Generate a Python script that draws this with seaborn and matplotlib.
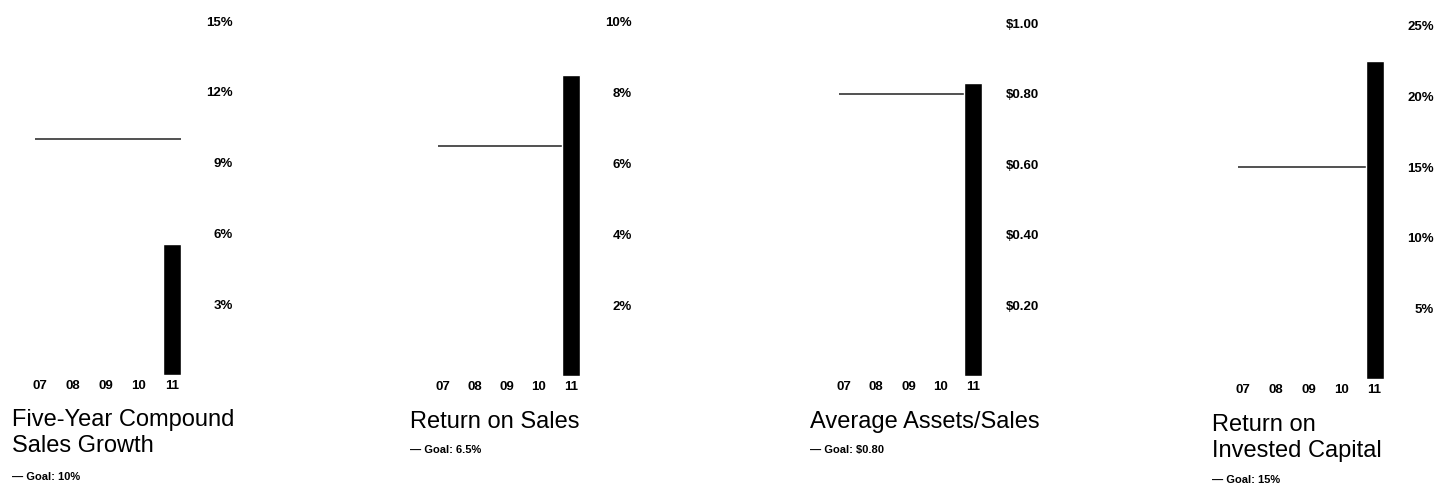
import numpy as np
import pandas as pd
import matplotlib
matplotlib.use("Agg")
import matplotlib.pyplot as plt
import seaborn as sns

sns.set_style("white")
plt.rcParams["font.family"] = ["Liberation Sans", "DejaVu Sans"]
plt.rcParams["text.color"] = "black"
plt.rcParams["xtick.color"] = "black"
plt.rcParams["ytick.color"] = "black"

years = ["07", "08", "09", "10", "11"]

# only 2011 has a bar in the chart
sales_growth = [None, None, None, None, 5.55]
return_on_sales = [None, None, None, None, 8.5]
assets_sales = [None, None, None, None, 0.83]
roic = [None, None, None, None, 22.5]

goals = [10, 6.5, 0.80, 15]
goal_labels = ["— Goal: 10%", "— Goal: 6.5%", "— Goal: $0.80", "— Goal: 15%"]
titles = ["Five-Year Compound\nSales Growth", "Return on Sales",
          "Average Assets/Sales", "Return on\nInvested Capital"]

yticks = [[3, 6, 9, 12, 15], [2, 4, 6, 8, 10],
          [0.2, 0.4, 0.6, 0.8, 1.0], [5, 10, 15, 20, 25]]
ytick_labels = [["3%", "6%", "9%", "12%", "15%"],
                ["2%", "4%", "6%", "8%", "10%"],
                ["$0.20", "$0.40", "$0.60", "$0.80", "$1.00"],
                ["5%", "10%", "15%", "20%", "25%"]]
series = [sales_growth, return_on_sales, assets_sales, roic]

W, H = 1437, 483
fig = plt.figure(figsize=(W / 100, H / 100), dpi=100)

# axes boxes in pixels: left, top, width, bottom ; label right edge ; title xy ; goal xy
boxes = [(23.5, 21, 165, 375, 233, (12, 409), (12, 472)),
         (427, 22, 160, 376, 632, (410, 411), (410, 445)),
         (828, 23, 161, 376, 1039, (810, 411), (810, 445)),
         (1227, 26, 164, 379, 1434, (1212, 414), (1212, 475))]

for i, (vals, box) in enumerate(zip(series, boxes)):
    left, top, width, bottom, lab_right, tpos, gpos = box
    ax = fig.add_axes([left / W, 1 - bottom / H, width / W, (bottom - top) / H])
    df = pd.DataFrame({"year": years, "value": vals}).dropna()
    sns.barplot(data=df, x="year", y="value", order=years, color="black",
                width=0.55, saturation=1, ax=ax, zorder=3)
    ax.hlines(goals[i], -0.15, 4.27, color="#222222", linewidth=1.1, zorder=2)
    ax.set_xlim(-0.5, 4.5)
    ax.set_ylim(0, yticks[i][-1])
    ax.set_xlabel("")
    ax.set_ylabel("")
    sns.despine(ax=ax, left=True, bottom=True)
    ax.yaxis.tick_right()
    ax.set_yticks(yticks[i])
    pad = (lab_right - (left + width)) * 72 / 100
    ax.set_yticklabels(ytick_labels[i], fontsize=9.5, fontweight="bold", ha="right")
    ax.tick_params(axis="y", length=0, pad=pad)
    ax.tick_params(axis="x", length=0, pad=3.5)
    ax.set_xticks(range(len(years)))
    ax.set_xticklabels(years, fontsize=9.5, fontweight="bold")
    ax.patch.set_alpha(0)

    fig.text(tpos[0] / W, 1 - tpos[1] / H, titles[i], fontsize=17,
             va="top", ha="left", linespacing=1.25)
    fig.text(gpos[0] / W, 1 - gpos[1] / H, goal_labels[i], fontsize=8,
             fontweight="bold", va="top", ha="left")

fig.savefig("out.png", dpi=100)
